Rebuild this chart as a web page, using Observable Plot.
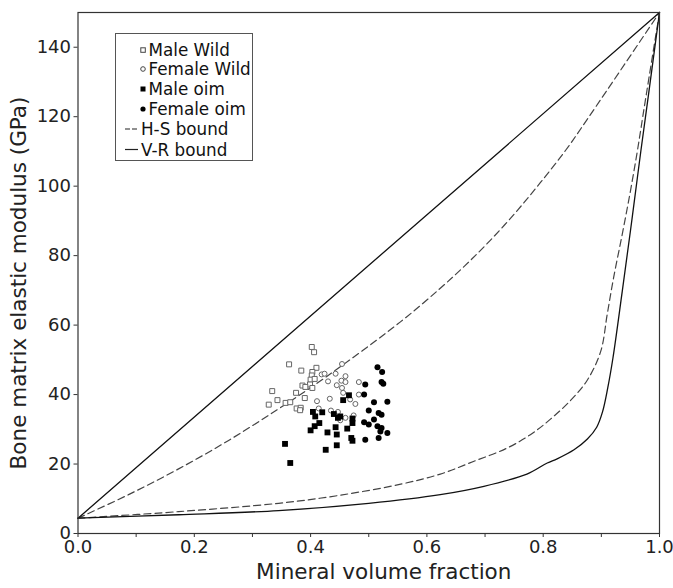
<!DOCTYPE html>
<html>
<head>
<meta charset="utf-8">
<script src="https://cdn.jsdelivr.net/npm/d3@7"></script>
<script src="https://cdn.jsdelivr.net/npm/@observablehq/plot@0.6"></script>
<style>
  html, body { margin: 0; padding: 0; background: #fff; }
  #wrap { position: relative; width: 673px; height: 588px; font-family: "DejaVu Sans", sans-serif; }
  #legend { position: absolute; left: 0; top: 0; pointer-events: none; }
</style>
</head>
<body>
<div id="wrap"></div>
<script>
// ---- Data ----
const maleWildX = [0.402,0.406,0.363,0.384,0.410,0.403,0.402,0.400,0.407,0.399,0.386,0.391,0.403,0.334,0.375,0.343,0.390,0.328,0.357,0.365,0.376,0.383,0.382];
const maleWildY = [53.7,52.2,48.7,46.9,47.7,46.5,45.5,44.3,44.5,42.9,42.6,42.2,41.9,41.0,40.5,38.4,39.0,37.1,37.6,37.8,36.0,36.2,35.5];

const femaleWildX = [0.454,0.419,0.424,0.443,0.460,0.453,0.460,0.430,0.445,0.483,0.454,0.456,0.483,0.468,0.411,0.433,0.477,0.435,0.447,0.451,0.460,0.474,0.414];
const femaleWildY = [48.8,45.8,46.0,46.0,45.3,44.0,43.6,43.8,42.7,43.6,41.9,40.5,40.0,38.6,38.1,38.8,37.3,35.4,35.0,32.6,33.3,34.0,36.0];

const maleOimX = [0.466,0.456,0.404,0.420,0.408,0.440,0.447,0.451,0.472,0.415,0.407,0.400,0.429,0.443,0.445,0.463,0.472,0.470,0.472,0.445,0.426,0.356,0.365];
const maleOimY = [39.8,38.4,35.0,34.9,33.7,34.4,33.3,33.7,33.1,31.8,30.9,29.7,29.1,30.6,28.5,30.2,31.8,27.5,26.7,25.4,24.1,25.8,20.3];

const femaleOimX = [0.515,0.523,0.522,0.525,0.494,0.492,0.509,0.532,0.500,0.517,0.522,0.509,0.492,0.500,0.515,0.522,0.520,0.532,0.494,0.517];
const femaleOimY = [47.9,46.5,43.6,43.1,42.9,40.0,37.8,37.9,35.4,34.7,34.2,32.8,32.0,31.4,30.9,30.4,29.4,28.9,27.0,27.5];

// V-R bound (upper straight line and lower solid curve)
const vrUpperX = [0, 1];
const vrUpperY = [4.4, 150];
const vrLowerX = [0,0.173,0.345,0.5,0.623,0.698,0.772,0.807,0.824,0.853,0.876,0.892,0.902,0.911,0.920,0.936,0.950,0.962,0.968,0.980,1];
const vrLowerY = [4.4,5.4,6.6,8.7,11.2,13.6,17.1,20.3,21.5,24.1,27.2,30.6,35.0,41.9,50.6,69.8,87.1,102.5,110.2,125,150];

// H-S bound (upper and lower dashed curves)
const hsUpperX = [0,0.087,0.173,0.259,0.345,0.426,0.555,0.623,0.666,0.709,0.755,0.795,0.838,0.876,1];
const hsUpperY = [4.4,11.2,18.6,26.8,35.9,45.0,61.0,70.6,77.2,84.4,92.9,101.0,110.2,119.3,150];
const hsLowerX = [0,0.173,0.345,0.45,0.555,0.623,0.681,0.738,0.781,0.813,0.847,0.876,0.899,0.910,0.921,0.936,0.950,0.962,0.975,1];
const hsLowerY = [4.4,6.3,8.7,11.0,14.2,17.1,20.8,24.6,28.8,33.0,38.3,44.2,52.5,63.0,73.6,86.2,98.6,110.2,124,150];

const xTicks = [0,0.1,0.2,0.3,0.4,0.5,0.6,0.7,0.8,0.9,1.0];
const yTicks = [0,20,40,60,80,100,120,140];

const xLabel = "Mineral volume fraction";
const yLabel = "Bone matrix elastic modulus (GPa)";
const legendLabels = ["Male Wild","Female Wild","Male oim","Female oim","H-S bound","V-R bound"];

// ---- build tables ----
const pts = (xs, ys) => xs.map((x, i) => ({x, y: ys[i]}));
const maleWild = pts(maleWildX, maleWildY);
const femaleWild = pts(femaleWildX, femaleWildY);
const maleOim = pts(maleOimX, maleOimY);
const femaleOim = pts(femaleOimX, femaleOimY);
const vrUpper = pts(vrUpperX, vrUpperY);
const vrLower = pts(vrLowerX, vrLowerY);
const hsUpper = pts(hsUpperX, hsUpperY);
const hsLower = pts(hsLowerX, hsLowerY);

const chart = Plot.plot({
  width: 673,
  height: 588,
  marginLeft: 77.5,
  marginRight: 14,
  marginTop: 12,
  marginBottom: 55,
  style: { fontFamily: "DejaVu Sans, sans-serif", fontSize: "18px", color: "#222", background: "#fff", overflow: "visible" },
  x: { domain: [0, 1] },
  y: { domain: [0, 150] },
  marks: [
    Plot.line(hsUpper, {x: "x", y: "y", stroke: "#444", strokeWidth: 1.2, strokeDasharray: "7,4", curve: "catmull-rom"}),
    Plot.line(hsLower, {x: "x", y: "y", stroke: "#444", strokeWidth: 1.2, strokeDasharray: "7,4", curve: "catmull-rom"}),
    Plot.line(vrUpper, {x: "x", y: "y", stroke: "#111", strokeWidth: 1.3}),
    Plot.line(vrLower, {x: "x", y: "y", stroke: "#111", strokeWidth: 1.3, curve: "catmull-rom"}),
    Plot.dot(maleWild, {x: "x", y: "y", symbol: "square", r: 2.8, fill: "#fff", stroke: "#666", strokeWidth: 1}),
    Plot.dot(femaleWild, {x: "x", y: "y", symbol: "circle", r: 2.5, fill: "#fff", stroke: "#666", strokeWidth: 1}),
    Plot.dot(maleOim, {x: "x", y: "y", symbol: "square", r: 3.3, fill: "#000", stroke: "none"}),
    Plot.dot(femaleOim, {x: "x", y: "y", symbol: "circle", r: 3, fill: "#000", stroke: "none"}),
    Plot.frame({stroke: "#333", strokeWidth: 1.2}),
    Plot.axisX({ticks: xTicks, tickSize: 4, tickPadding: 3, stroke: "#333",
      tickFormat: d => (Math.round(d * 10) % 2 === 0 ? d.toFixed(1) : ""), label: null}),
    Plot.axisY({ticks: yTicks, tickSize: 4, tickPadding: 3, stroke: "#333", tickFormat: d => String(d), label: null}),
    Plot.text([xLabel], {frameAnchor: "bottom", dy: 45, dx: 15, text: d => d, fontSize: 21.5, fill: "#222"}),
    Plot.text([yLabel], {frameAnchor: "left", textAnchor: "middle", dx: -59, dy: 10, rotate: -90, text: d => d, fontSize: 21.5, fill: "#222"})
  ]
});
document.getElementById("wrap").appendChild(chart);

// ---- legend (overlay inside the axes, as in the reference) ----
const ns = "http://www.w3.org/2000/svg";
const lg = document.createElementNS(ns, "svg");
lg.setAttribute("id", "legend");
lg.setAttribute("width", 673);
lg.setAttribute("height", 588);
const mk = (tag, attrs, parent) => { const e = document.createElementNS(ns, tag); for (const k in attrs) e.setAttribute(k, attrs[k]); parent.appendChild(e); return e; };
mk("rect", {x: 115.5, y: 33.5, width: 137, height: 127, fill: "#fff", stroke: "#555", "stroke-width": 1}, lg);
const rowY = [50, 69, 89, 109, 129, 149.5];
// markers
mk("rect", {x: 140.8, y: rowY[0] - 2.2, width: 4.5, height: 4.5, fill: "#fff", stroke: "#444", "stroke-width": 1}, lg);
mk("circle", {cx: 143, cy: rowY[1], r: 2.3, fill: "#fff", stroke: "#444", "stroke-width": 1}, lg);
mk("rect", {x: 140.5, y: rowY[2] - 2.5, width: 5, height: 5, fill: "#000"}, lg);
mk("circle", {cx: 143, cy: rowY[3], r: 2.6, fill: "#000"}, lg);
mk("line", {x1: 125, x2: 138, y1: rowY[4], y2: rowY[4], stroke: "#222", "stroke-width": 1.2, "stroke-dasharray": "5,2"}, lg);
mk("line", {x1: 125, x2: 138, y1: rowY[5], y2: rowY[5], stroke: "#222", "stroke-width": 1.2}, lg);
legendLabels.forEach((t, i) => {
  const tx = mk("text", {x: i < 4 ? 148.5 : 141, y: rowY[i], "dominant-baseline": "central",
    "font-family": "DejaVu Sans, sans-serif", "font-size": 16.8, fill: "#111"}, lg);
  tx.textContent = t;
});
document.getElementById("wrap").appendChild(lg);
</script>
</body>
</html>
